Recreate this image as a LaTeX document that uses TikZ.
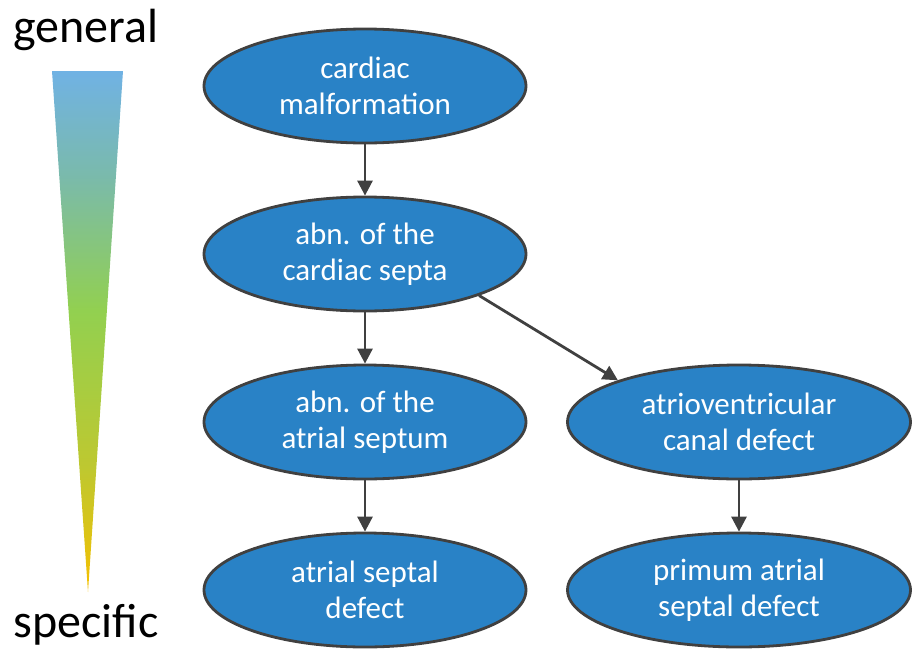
\documentclass[tikz,border=0pt]{standalone}
\usepackage{fontspec}
\setmainfont{Carlito}
\usepackage{tikz}
\usetikzlibrary{arrows.meta,positioning,shapes.geometric}
\usepackage{xcolor}
\definecolor{termblue}{RGB}{41,130,198}
\definecolor{edgegray}{RGB}{64,64,64}
\definecolor{topblue}{RGB}{112,178,228}
\definecolor{tealblue}{RGB}{122,186,172}
\definecolor{midgreen}{RGB}{146,208,80}
\definecolor{olivegreen}{RGB}{190,200,48}
\definecolor{lowyellow}{RGB}{245,192,0}
\pgfdeclareverticalshading{specshade}{100bp}{color(0bp)=(lowyellow); color(25bp)=(lowyellow);
  color(37bp)=(olivegreen); color(52bp)=(midgreen); color(65bp)=(tealblue);
  color(75bp)=(topblue); color(100bp)=(topblue)}

\begin{document}
\begin{tikzpicture}[x=1pt, y=-1pt,
  term/.style={ellipse, draw=edgegray, line width=2.8pt, fill=termblue,
    text=white, align=center, inner sep=0pt,
    minimum width=322pt, minimum height=114pt,
    font=\fontsize{31}{36}\selectfont},
  wideterm/.style={term, minimum width=343pt},
  isa/.style={-{Triangle[length=15pt,width=15pt]}, line width=2.8pt, draw=edgegray},
  every node/.style={font=\fontsize{48}{52}\selectfont}]
  \useasboundingbox (0,0) rectangle (913,648);

  % Specificity scale
  \shade[shading=specshade] (52,71) -- (123,71) -- (88,592) -- cycle;
  \node[anchor=base] (gen) at (86,42) {general};
  \node[anchor=base] (spec) at (86,637) {specific};

  % Terms, general to specific
  \node[term] (malf) at (365,86) {cardiac\\malformation};
  \node[term] (septa) at (365,254) {abn. of the\\cardiac septa};
  \node[term] (atrial) at (365,422) {abn. of the\\atrial septum};
  \node[wideterm] (avcanal) at (739,422) {atrioventricular\\canal defect};
  \node[term] (asd) at (365,590) {atrial septal\\defect};
  \node[wideterm] (primum) at (739,590) {primum atrial\\septal defect};

  % Is-a links
  \draw[isa] (malf) -- (septa);
  \draw[isa] (septa) -- (atrial);
  \draw[isa] (septa.-20) -- (avcanal.161);
  \draw[isa] (atrial) -- (asd);
  \draw[isa] (avcanal) -- (primum);
\end{tikzpicture}
\end{document}
